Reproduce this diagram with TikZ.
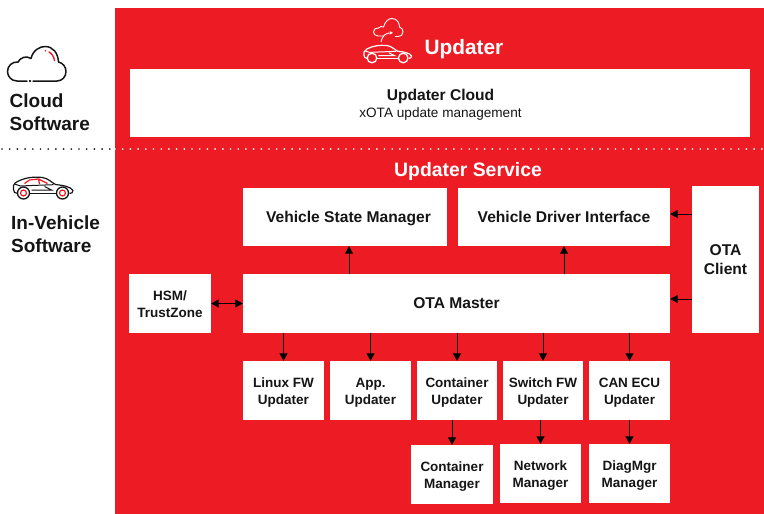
\documentclass[tikz,border=0pt]{standalone}
\usepackage{fontspec}
\setmainfont{Liberation Sans}
\usetikzlibrary{arrows.meta}
\definecolor{ured}{HTML}{ED1C24}
\definecolor{uink}{HTML}{151515}
\newcommand\dnline[2]{\raisebox{-13.5pt}[0pt][0pt]{\vbox{\halign{\hfil##\hfil\cr #1\cr #2\cr}}}}
\tikzset{
  x=1pt,y=-1pt,
  panel/.style={fill=white,inner sep=0pt,align=center,text=uink,font=\fontsize{13.5}{16.8}\selectfont\bfseries,minimum width=#1},
  panel/.default=81pt,
  big/.style={font=\fontsize{15.6}{18.6}\selectfont\bfseries},
  flow/.style={draw=black,line width=1pt,-{Triangle[length=7.5pt,width=8pt]}},
  bothflow/.style={draw=black,line width=1pt,{Triangle[length=7.5pt,width=8pt]}-{Triangle[length=7.5pt,width=8pt]}},
  side/.style={anchor=base west,font=\fontsize{19}{23}\selectfont\bfseries,text=uink,inner sep=0pt},
  caricon/.pic={
    \draw[line width=1.2pt,line join=round,draw=#1] (-6,8) .. controls (-9,8) and (-10,6) .. (-10,4) -- (-10,0) .. controls (-9,-2) and (-8,-3) .. (-6,-4) .. controls (2,-8) and (10,-9) .. (19,-8) .. controls (25,-7) and (28,-3) .. (32,-1) .. controls (40,0) and (47,1) .. (49.5,5) .. controls (49.5,7) and (48,8) .. (46,8);
    \draw[line width=1.2pt,draw=#1] (6,8) -- (33,8);
    \draw[line width=1pt,draw=#1] (-9,-1.5) -- (-3,0.5) -- (8,0) -- (30,-.8);
    \draw[line width=1pt,draw=#1] (8,4.5) -- (28,4.5) -- (21,1);
    \draw[line width=1.3pt,draw=#1] (0,7.5) circle (6) (39,7.5) circle (6);
  },
  redroof/.pic={
    \draw[line width=1.2pt,draw=ured] (1,-2) -- (6,-5.5) -- (15,-6.5) -- (16,-1.5) (15,-6.5) -- (24,-2);
  }
}
\begin{document}
\begin{tikzpicture}
\useasboundingbox (0,0) rectangle (764,514);
\fill[white] (0,0) rectangle (764,514);
\fill[ured] (115,8) rectangle (764,514);

% separator
\coordinate (dotl) at (2,149);
\coordinate (dotm) at (115,149);
\coordinate (dotr) at (764,149);
\draw[uink,line width=1.9pt,line cap=round,dash pattern=on 0pt off 7.7pt] (dotl) -- (dotm);
\draw[white,line width=1.9pt,line cap=round,dash pattern=on 0pt off 7.7pt] (dotm) -- (dotr);

% left labels
\node[side] (lcloud) at (9.5,107) {Cloud};
\node[side] (lcloud2) at (9.5,130) {Software};
\node[side] (lveh) at (11,229.5) {In-Vehicle};
\node[side] (lveh2) at (11,252.5) {Software};

% cloud icon
\draw[uink,line width=1.5pt,line join=round,line cap=round]
  (27,81) -- (17,81) .. controls (11,81) and (7.5,76) .. (7.5,71.5)
  .. controls (7.5,66) and (12,61.5) .. (18,62)
  .. controls (20,58) and (26,55) .. (31,58.5)
  .. controls (33,50) and (40,46.5) .. (45,46.5)
  .. controls (53,46.5) and (58,53) .. (58.5,62)
  .. controls (63,63) and (66,67) .. (66,71.5)
  .. controls (66,77) and (62,81) .. (57,81) -- (33,81);
\draw[uink,line width=1.5pt,line cap=round] (29.5,81) -- (30.5,81);
\draw[ured,line width=1.4pt,line cap=round] (49,52) .. controls (52,53.5) and (54,57) .. (54.5,60.5);
\fill[ured] (45.5,50.7) circle (.9);

% car icon, dark
\pic at (23.5,185.5) {caricon=uink};
\pic at (23.5,185.5) {redroof};
\draw[ured,line width=1.2pt] (23.5,193) circle (3) (62.5,193) circle (3);

% updater icon
\draw[white,line width=.9pt,line join=round]
  (384,36) -- (378,36) .. controls (375,36) and (373.5,34) .. (373.5,32)
  .. controls (373.5,29) and (376,27.5) .. (378.5,28)
  .. controls (380,26.5) and (382,26) .. (383.5,27)
  .. controls (385,21) and (389,18.5) .. (392,18.5)
  .. controls (397,18.5) and (399.5,23) .. (399.5,27)
  .. controls (402,27.5) and (403,30) .. (403,32)
  .. controls (403,35) and (401,36.5) .. (398,36.5) -- (395,36.5);
\draw[white,line width=.9pt,-{Stealth[length=3.5pt,width=3.5pt]}] (381,42) .. controls (382,36) and (386,32.5) .. (393,33);
\pic[scale=.8] at (372,52) {caricon=white};

% title
\node[font=\fontsize{20.8}{25}\selectfont\bfseries,text=white,inner sep=0pt] (titleu) at (464,49.5) {Updater};
\node[font=\fontsize{19.4}{23}\selectfont\bfseries,text=white,inner sep=0pt] (titles) at (468,171) {Updater Service};

% boxes
\node[panel=620pt,minimum height=68pt] (cloudb) at (440,103) {};
\node[text=uink,inner sep=0pt,font=\fontsize{15.6}{19}\selectfont\bfseries] (cloudt) at (440.5,96) {Updater Cloud};
\node[text=uink,inner sep=0pt,font=\fontsize{13.6}{16}\selectfont] (cloudsub) at (440.5,114) {xOTA update management};

\node[panel=204pt,big,minimum height=58pt,text depth=0pt] (vsm) at (345,217) {\hspace*{7pt}Vehicle State Manager};
\node[panel=212pt,big,minimum height=58pt] (vdi) at (564,217) {Vehicle Driver Interface};
\node[panel=67pt,big,minimum height=147pt] (client) at (725.5,259.5) {OTA\\Client};
\node[panel=427pt,big,minimum height=59pt] (master) at (456.5,303.5) {OTA Master};
\node[panel=82pt,minimum height=59pt] (hsm) at (170,303.5) {\dnline{HSM/}{TrustZone}};

\node[panel=81pt,minimum height=59pt] (linux) at (283.5,390.5) {\dnline{Linux FW}{Updater}};
\node[panel=81pt,minimum height=59pt] (app) at (370.5,390.5) {\dnline{App.}{Updater}};
\node[panel=80pt,minimum height=59pt] (cont) at (457,390.5) {\dnline{Container}{Updater}};
\node[panel=80pt,minimum height=59pt] (switch) at (543,390.5) {\dnline{Switch FW}{Updater}};
\node[panel=81pt,minimum height=59pt] (can) at (629.5,390.5) {\dnline{CAN ECU}{Updater}};

\node[panel=82pt,minimum height=59pt] (cmgr) at (452,474.5) {\dnline{Container}{Manager}};
\node[panel=81pt,minimum height=59pt] (nmgr) at (540.5,473.5) {\dnline{Network}{Manager}};
\node[panel=81pt,minimum height=59pt] (dmgr) at (629.5,473.5) {\dnline{DiagMgr}{Manager}};

% connectors
\coordinate (xa) at (349,0);
\coordinate (xb) at (564,0);
\coordinate (ya) at (0,214);
\coordinate (yb) at (0,299);
\draw[flow] (master.north -| xa) -- (vsm.south -| xa);
\draw[flow] (master.north -| xb) -- (vdi.south -| xb);
\draw[flow] (client.west |- ya) -- (vdi.east |- ya);
\draw[flow] (client.west |- yb) -- (master.east |- yb);
\draw[bothflow] (hsm.east) -- (master.west |- hsm.east);
\draw[flow] (master.south -| linux.north) -- (linux.north);
\draw[flow] (master.south -| app.north) -- (app.north);
\draw[flow] (master.south -| cont.north) -- (cont.north);
\draw[flow] (master.south -| switch.north) -- (switch.north);
\draw[flow] (master.south -| can.north) -- (can.north);
\draw[flow] (cont.south -| cmgr.north) -- (cmgr.north);
\draw[flow] (switch.south -| nmgr.north) -- (nmgr.north);
\draw[flow] (can.south) -- (dmgr.north);
\end{tikzpicture}
\end{document}
